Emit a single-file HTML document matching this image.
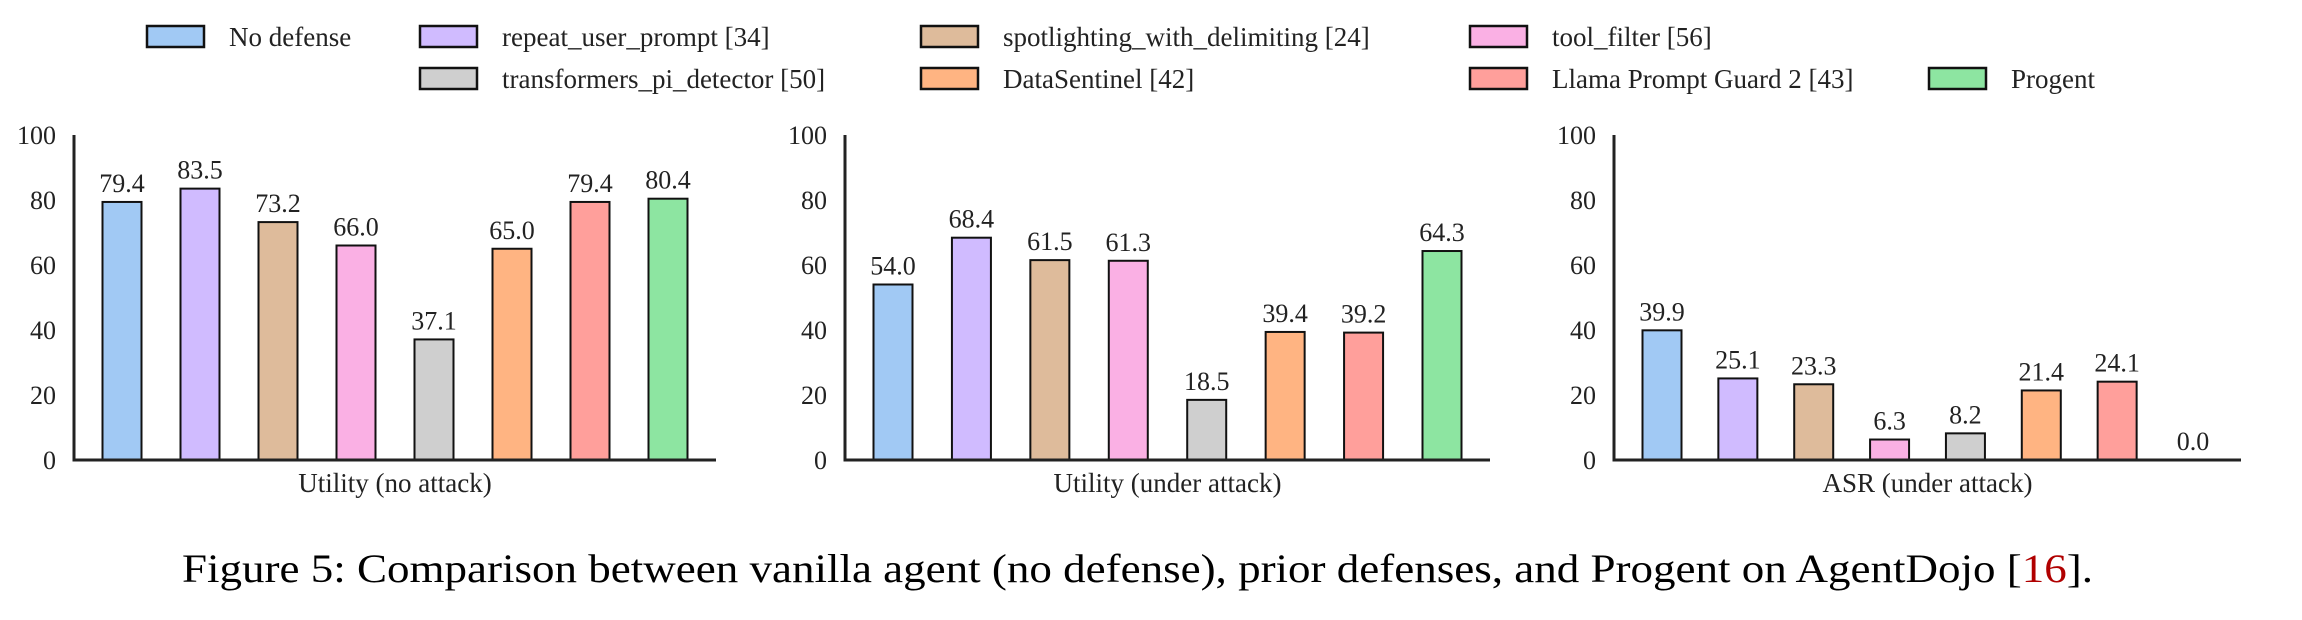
<!DOCTYPE html>
<html><head><meta charset="utf-8"><style>
html,body{margin:0;padding:0;background:#fff;}
svg{display:block;font-family:"Liberation Serif",serif;}
</style></head><body>
<svg id="fig" width="2302" height="620" viewBox="0 0 2302 620" xmlns="http://www.w3.org/2000/svg">
<g id="legend"></g>
<g id="charts"></g>
<text x="182" y="582" font-size="40" fill="#000" textLength="1911" lengthAdjust="spacingAndGlyphs">Figure 5: Comparison between vanilla agent (no defense), prior defenses, and Progent on AgentDojo [<tspan fill="#b00000">16</tspan>].</text>
</svg>
<script>
const methods = ["No defense","repeat_user_prompt [34]","spotlighting_with_delimiting [24]","tool_filter [56]","transformers_pi_detector [50]","DataSentinel [42]","Llama Prompt Guard 2 [43]","Progent"];
const colors = ["#a1c9f4","#d0bbff","#debb9b","#fab0e4","#cfcfcf","#ffb482","#ff9f9b","#8de5a1"];
const utilNoAttack = [79.4,83.5,73.2,66.0,37.1,65.0,79.4,80.4];
const utilUnderAttack = [54.0,68.4,61.5,61.3,18.5,39.4,39.2,64.3];
const asrUnderAttack = [39.9,25.1,23.3,6.3,8.2,21.4,24.1,0.0];
const yTicks = [0,20,40,60,80,100];
const panelTitles = ["Utility (no attack)","Utility (under attack)","ASR (under attack)"];

const NS="http://www.w3.org/2000/svg";
function mk(tag, attrs, parent){const e=document.createElementNS(NS,tag);for(const k in attrs)e.setAttribute(k,attrs[k]);parent.appendChild(e);return e;}

const legend=document.getElementById('legend');
const legendSlots=[[147,37],[420,37],[921,37],[1470,37],[420,79],[921,79],[1470,79],[1929,79]];
methods.forEach((m,i)=>{
  const [lx,ly]=legendSlots[i];
  const r=mk('rect',{x:lx,y:ly-11,width:57,height:21,fill:colors[i],stroke:'#111','stroke-width':2.5},legend);
  
  
  const t=mk('text',{x:lx+82,y:ly+9,'font-size':27,fill:'#222'},legend);
  t.textContent=m;
  
  
});

const panels=[
  {left:74,right:716,data:utilNoAttack},
  {left:845,right:1490,data:utilUnderAttack},
  {left:1614,right:2241,data:asrUnderAttack}
];
const plotTop=135, plotZero=460, pad=48, barW=39;
const charts=document.getElementById('charts');
panels.forEach((p,pi)=>{
  const g=mk('g',{},charts);
  
  
  const yS=v=>plotZero-(v/100)*(plotZero-plotTop);
  const step=(p.right-p.left-2*pad)/(p.data.length-1);
  const xS=i=>p.left+pad+i*step;
  yTicks.forEach(t=>{
    const tx=mk('text',{x:p.left-18,y:yS(t)+9,'font-size':26,'text-anchor':'end',fill:'#222'},g);
    tx.textContent=t;
    
    
  });
  p.data.forEach((v,i)=>{
    const cx=xS(i);
    const b=mk('rect',{x:cx-barW/2,y:yS(v),width:barW,height:plotZero-yS(v),fill:colors[i],stroke:'#111','stroke-width':2},g);
    
    
    const l=mk('text',{x:cx,y:yS(v)-10,'font-size':26,'text-anchor':'middle',fill:'#222'},g);
    l.textContent=v.toFixed(1);
    
    
  });
  const ya=mk('line',{x1:p.left,y1:plotTop,x2:p.left,y2:plotZero+1.5,stroke:'#222','stroke-width':3},g);
  
  
  const xa=mk('line',{x1:p.left-1.5,y1:plotZero,x2:p.right,y2:plotZero,stroke:'#222','stroke-width':3},g);
  
  
  const xt=mk('text',{x:(p.left+p.right)/2,y:492,'font-size':27,'text-anchor':'middle',fill:'#222'},g);
  xt.textContent=panelTitles[pi];
  
  
});
</script>
</body></html>
